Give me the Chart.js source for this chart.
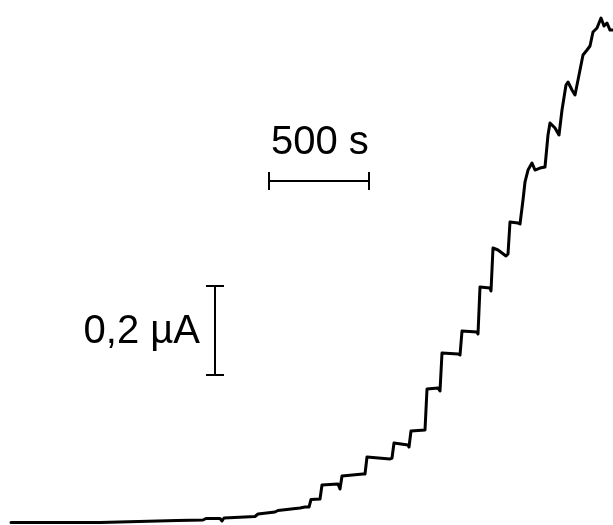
<!DOCTYPE html>
<html>
<head>
<meta charset="utf-8">
<script src="https://cdn.jsdelivr.net/npm/chart.js@4"></script>
<style>
  html, body { margin: 0; padding: 0; background: #fff; }
  #box { width: 613px; height: 525px; }
</style>
</head>
<body>
<div id="box"><canvas id="trace"></canvas></div>
<script>
// temps (s) et courant (µA)
const timeS = [55, 500, 885, 1015, 1030, 1100, 1110, 1120, 1275, 1290, 1375, 1390, 1500, 1525, 1545,
  1555, 1600, 1610, 1690, 1700, 1710, 1815, 1825, 1835, 1950, 1960, 1970, 2040, 2045, 2055, 2125,
  2135, 2190, 2200, 2210, 2290, 2300, 2310, 2385, 2390, 2400, 2450, 2455, 2465, 2490, 2530, 2540,
  2550, 2590, 2600, 2615, 2625, 2640, 2660, 2675, 2700, 2725, 2740, 2750, 2775, 2795, 2810, 2830,
  2840, 2860, 2875, 2890, 2915, 2935, 2950, 2965, 2985, 3005, 3020, 3035, 3050, 3065];
const currentUA = [0, 0, 0.0045, 0.0056, 0.009, 0.009, 0.0034, 0.0101, 0.0135, 0.0191, 0.0236, 0.027, 0.0326, 0.0348, 0.0348,
  0.0517, 0.0528, 0.0843, 0.0865, 0.0753, 0.1045, 0.109, 0.109, 0.1472, 0.1427, 0.1449, 0.1787, 0.1742, 0.1697, 0.2056, 0.2079,
  0.300, 0.3022, 0.2955, 0.3809, 0.3787, 0.3764, 0.4303, 0.4281, 0.4236, 0.5292, 0.527, 0.5202, 0.6169, 0.6124, 0.5989, 0.6034,
  0.6753, 0.673, 0.6708, 0.7247, 0.7652, 0.7921, 0.8079, 0.7921, 0.7966, 0.7989, 0.8708, 0.8978, 0.8865, 0.8708, 0.927, 0.9832,
  0.9899, 0.9719, 0.9607, 0.9944, 1.0506, 1.0618, 1.0708, 1.1023, 1.1112, 1.1337, 1.1157, 1.1225, 1.1067, 1.1067];

// barres d'échelle
const barTime = [1345, 1845];      // 500 s
const barTimeY = 0.7674;
const barCurrentX = 1075;
const barCurrent = [0.3315, 0.5315]; // 0,2 µA
const labelTime = "500 s";
const labelCurrent = "0,2 µA";

const tracePoints = timeS.map((t, i) => ({ x: t, y: currentUA[i] }));

const hBar = [
  { x: barTime[0], y: barTimeY }, { x: barTime[1], y: barTimeY }, { x: null, y: null },
  { x: barTime[0], y: barTimeY - 0.02 }, { x: barTime[0], y: barTimeY + 0.02 }, { x: null, y: null },
  { x: barTime[1], y: barTimeY - 0.02 }, { x: barTime[1], y: barTimeY + 0.02 }
];
const vBar = [
  { x: barCurrentX, y: barCurrent[0] }, { x: barCurrentX, y: barCurrent[1] }, { x: null, y: null },
  { x: barCurrentX - 45, y: barCurrent[0] }, { x: barCurrentX + 45, y: barCurrent[0] }, { x: null, y: null },
  { x: barCurrentX - 45, y: barCurrent[1] }, { x: barCurrentX + 45, y: barCurrent[1] }
];

// textes des barres d'échelle
const scaleLabels = {
  id: "scaleLabels",
  afterDatasetsDraw(chart) {
    const { ctx, scales: { x, y } } = chart;
    ctx.save();
    ctx.fillStyle = "#000";
    ctx.font = "40px 'Liberation Sans', Arial, sans-serif";
    ctx.textBaseline = "alphabetic";
    ctx.textAlign = "left";
    ctx.fillText(labelTime, x.getPixelForValue(1355), y.getPixelForValue(0.828));
    ctx.textAlign = "right";
    ctx.fillText(labelCurrent, x.getPixelForValue(1000), y.getPixelForValue(0.4034));
    ctx.restore();
  }
};

const ctx = document.getElementById("trace").getContext("2d");
new Chart(ctx, {
  type: "line",
  data: {
    datasets: [
      { data: tracePoints, borderColor: "#000", borderWidth: 3, pointRadius: 0, tension: 0,
        borderJoinStyle: "round", borderCapStyle: "round", fill: false },
      { data: hBar, borderColor: "#000", borderWidth: 2, pointRadius: 0, spanGaps: false },
      { data: vBar, borderColor: "#000", borderWidth: 2, pointRadius: 0, spanGaps: false }
    ]
  },
  options: {
    responsive: true,
    maintainAspectRatio: false,
    animation: false,
    layout: { padding: 0 },
    plugins: { legend: { display: false }, tooltip: { enabled: false } },
    scales: {
      x: { type: "linear", min: 0, max: 3065, display: false },
      y: { type: "linear", min: -0.0056, max: 1.1742, display: false }
    }
  },
  plugins: [scaleLabels]
});
</script>
</body>
</html>
